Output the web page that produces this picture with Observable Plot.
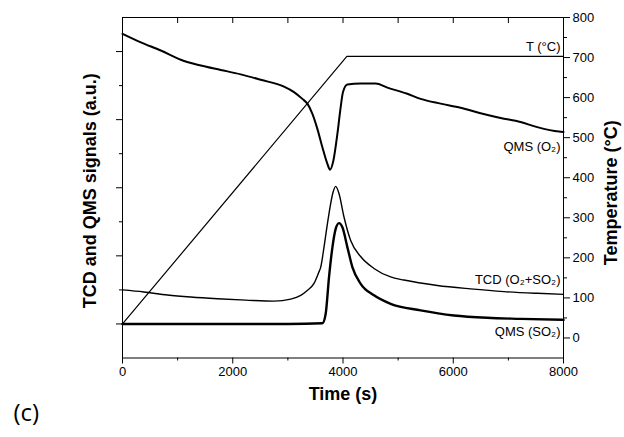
<!DOCTYPE html>
<html><head><meta charset="utf-8">
<script src="https://cdn.jsdelivr.net/npm/d3@7"></script>
<script src="https://cdn.jsdelivr.net/npm/@observablehq/plot@0.6"></script>
<style>body{margin:0;background:#fff}#chart svg{display:block}</style>
</head><body><div id="chart"></div>
<script>
// Temperature programme (°C)
const tempTime = [0, 4070, 8000];
const tempValue = [35, 703, 703];

// QMS (O2) signal, a.u.
const o2Time = [0,332,695,1057,1420,1782,2145,2508,2930,3111,3263,3354,3445,3535,3626,3717,3764,3826,3898,3958,4000,4080,4321,4593,4805,5167,5408,5771,6133,6496,6859,7221,7524,7916,8000];
const o2Signal = [9.52,9.27,9.03,8.76,8.59,8.46,8.33,8.17,7.97,7.81,7.61,7.47,7.17,6.73,6.19,5.70,5.53,5.80,6.58,7.37,7.81,8.03,8.06,8.06,7.94,7.76,7.61,7.47,7.35,7.19,7.05,6.93,6.78,6.65,6.64];

// TCD (O2+SO2) signal, a.u.
const tcdTime = [0,386,816,1238,1722,2236,2749,3052,3233,3341,3474,3559,3595,3655,3704,3746,3818,3867,3927,4018,4139,4320,4562,4864,5105,5711,6314,6918,7524,8000];
const tcdSignal = [2.00,1.94,1.85,1.79,1.74,1.70,1.67,1.73,1.84,1.97,2.19,2.51,2.66,3.25,3.80,4.24,4.86,5.04,4.83,4.14,3.45,2.98,2.63,2.38,2.29,2.13,2.03,1.95,1.90,1.87];

// QMS (SO2) signal, a.u.
const so2Time = [0,1000,2000,3000,3626,3686,3746,3808,3867,3927,3989,4080,4170,4321,4562,4864,5408,6012,6617,7221,8000];
const so2Signal = [1.00,1.00,1.00,1.00,1.02,1.30,2.37,3.25,3.79,3.96,3.84,3.25,2.67,2.18,1.84,1.59,1.40,1.25,1.18,1.15,1.12];

// Ticks
const xMajorTicks = [0, 2000, 4000, 6000, 8000];
const xMinorTicks = [1000, 3000, 5000, 7000];
const xTopTicks = [1000, 2000, 3000, 4000, 5000, 6000, 7000];
const leftMajorTicks = [1, 3, 5, 7, 9];       // a.u.
const leftMinorTicks = [2, 4, 6, 8];          // a.u.
const tempMajorTicks = [0, 100, 200, 300, 400, 500, 600, 700, 800];
const tempMinorTicks = [50, 150, 250, 350, 450, 550, 650, 750];

// Series labels and their level (a.u.)
const seriesLabels = ["T (°C)", "QMS (O₂)", "TCD (O₂+SO₂)", "QMS (SO₂)"];
const seriesLabelLevel = [9.13, 6.19, 2.30, 0.76];

// a.u. (0..10 on the left axis) -> temperature-axis units (-50..800)
const auToY = v => -50 + 85 * v;
const rows = (ts, vs, f) => ts.map((t, i) => ({t, y: f(vs[i])}));

const tempRows = rows(tempTime, tempValue, d => d);
const o2Rows = rows(o2Time, o2Signal, auToY);
const tcdRows = rows(tcdTime, tcdSignal, auToY);
const so2Rows = rows(so2Time, so2Signal, auToY);
const labelRows = seriesLabels.map((label, i) => ({label, y: auToY(seriesLabelLevel[i])}));
const blank = () => "";
const plain = d => String(d);

const chart = Plot.plot({
  width: 624, height: 437,
  marginLeft: 122, marginRight: 61, marginTop: 17, marginBottom: 79.5,
  style: {fontFamily: "'Liberation Sans', Arial, sans-serif", fontSize: "13px", color: "black", background: "white", overflow: "visible"},
  x: {domain: [0, 8000]},
  y: {domain: [-50, 800]},
  marks: [
    Plot.line(tempRows, {x: "t", y: "y", stroke: "black", strokeWidth: 1.2}),
    Plot.line(o2Rows, {x: "t", y: "y", stroke: "black", strokeWidth: 2, curve: "monotone-x"}),
    Plot.line(tcdRows, {x: "t", y: "y", stroke: "black", strokeWidth: 1.4, curve: "monotone-x"}),
    Plot.line(so2Rows, {x: "t", y: "y", stroke: "black", strokeWidth: 2.4, curve: "monotone-x"}),
    Plot.axisX({ticks: xMajorTicks, anchor: "bottom", tickSize: 6, tickPadding: 3, tickFormat: plain, label: null}),
    Plot.axisX({ticks: xMinorTicks, anchor: "bottom", tickSize: 3, tickFormat: blank, label: null}),
    Plot.axisX({ticks: xTopTicks, anchor: "top", tickSize: -5, tickFormat: blank, label: null}),
    Plot.axisY({ticks: leftMajorTicks.map(auToY), anchor: "left", tickSize: 6, tickFormat: blank, label: null}),
    Plot.axisY({ticks: leftMinorTicks.map(auToY), anchor: "left", tickSize: 3, tickFormat: blank, label: null}),
    Plot.axisY({ticks: tempMajorTicks, anchor: "right", tickSize: 6, tickPadding: 3, tickFormat: plain, label: null}),
    Plot.axisY({ticks: tempMinorTicks, anchor: "right", tickSize: 3, tickFormat: blank, label: null}),
    Plot.frame({stroke: "black", strokeWidth: 1}),
    Plot.text(labelRows, {y: "y", text: "label", frameAnchor: "right", textAnchor: "end", dx: -3, fontSize: 13}),
    Plot.text(["Time (s)"], {frameAnchor: "bottom", dy: 42, fontWeight: "bold", fontSize: 18}),
    Plot.text(["TCD and QMS signals (a.u.)"], {frameAnchor: "left", textAnchor: "middle", rotate: -90, dx: -32, dy: 3, fontWeight: "bold", fontSize: 18}),
    Plot.text(["Temperature (°C)"], {frameAnchor: "right", textAnchor: "middle", rotate: -90, dx: 48, dy: 5, fontWeight: "bold", fontSize: 18}),
    Plot.text(["(c)"], {frameAnchor: "bottom-left", textAnchor: "start", dx: -109, dy: 63, fontSize: 24, fontFamily: "'Open Sans', sans-serif"})
  ]
});
document.getElementById("chart").appendChild(chart);
</script>
</body></html>
